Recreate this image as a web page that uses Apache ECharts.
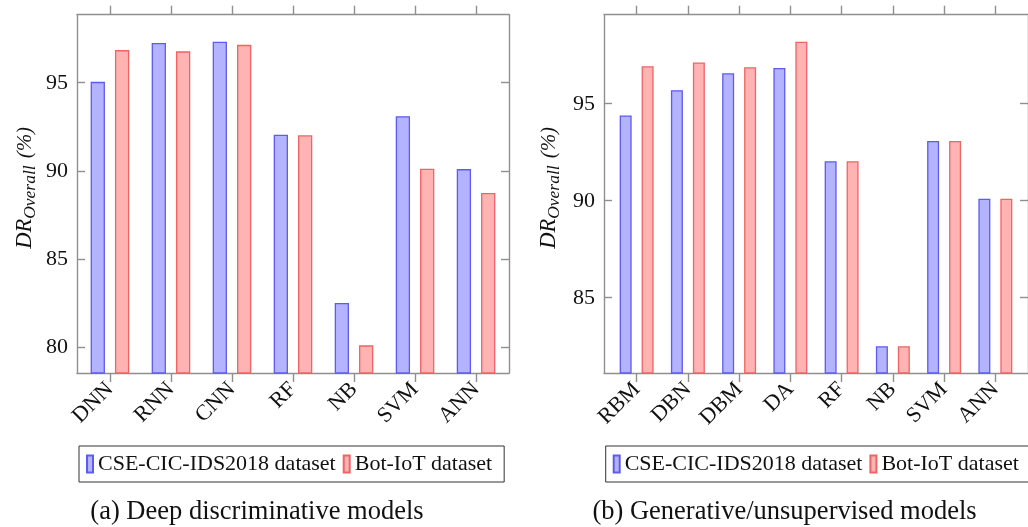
<!DOCTYPE html>
<html><head><meta charset="utf-8">
<script src="https://cdn.jsdelivr.net/npm/echarts@6/dist/echarts.min.js"></script>
<style>html,body{margin:0;padding:0;background:#fff}#c{width:1028px;height:527px}</style>
</head><body><div id="c"></div>
<script>
const catsA = ['DNN','RNN','CNN','RF','NB','SVM','ANN'];
const cseA = [95.05, 97.25, 97.33, 92.05, 82.5, 93.1, 90.1];
const botA = [96.85, 96.78, 97.15, 92.02, 80.1, 90.12, 88.75];
const catsB = ['RBM','DBN','DBM','DA','RF','NB','SVM','ANN'];
const cseB = [94.4, 95.7, 96.57, 96.84, 92.04, 82.5, 93.08, 90.1];
const botB = [96.93, 97.13, 96.88, 98.2, 92.04, 82.5, 93.08, 90.1];
const yTicksA = [80, 85, 90, 95];
const yTicksB = [85, 90, 95];
const seriesNames = ['CSE-CIC-IDS2018 dataset', 'Bot-IoT dataset'];
const captions = ['(a) Deep discriminative models', '(b) Generative/unsupervised models'];

const FONT = '"Liberation Serif", "DejaVu Serif", serif';
const FRAME = '#8f8f8f';
const BLUE_FILL = '#b3b3ff', BLUE_LINE = '#5c5cf0';
const RED_FILL = '#ffb3b3', RED_LINE = '#f06464';

function xAx(gi, cats, min, max, pos) {
  const idx = cats.map((_, i) => i);
  return {
    type: 'value', gridIndex: gi, position: pos, min: min, max: max,
    axisLine: {show: true, onZero: false, lineStyle: {color: FRAME, width: 1.4}},
    axisTick: {show: true, inside: false, length: 9, customValues: idx, lineStyle: {color: FRAME, width: 1.4}},
    axisLabel: pos === 'bottom' ? {
      show: true, customValues: idx, formatter: v => cats[Math.round(v)],
      rotate: 45, margin: 13, fontSize: 22, fontFamily: FONT, color: '#111'
    } : {show: false},
    splitLine: {show: false}
  };
}
function yAx(gi, ticks, min, max, pos, gap) {
  const o = {
    type: 'value', gridIndex: gi, position: pos, min: min, max: max,
    axisLine: {show: true, onZero: false, lineStyle: {color: FRAME, width: 1.4}},
    axisTick: {show: true, inside: true, length: 8, customValues: ticks, lineStyle: {color: FRAME, width: 1.4}},
    axisLabel: pos === 'left' ? {show: true, customValues: ticks, margin: 9, fontSize: 22, fontFamily: FONT, color: '#111'} : {show: false},
    splitLine: {show: false}
  };
  if (pos === 'left') {
    o.name = '{i|DR}{s|Overall}{g| }{p|(%)}';
    o.nameLocation = 'middle';
    o.nameRotate = 90;
    o.nameGap = gap;
    o.nameTextStyle = {
      fontSize: 22, fontFamily: FONT,
      padding: [0, 0, 0, 12],
      rich: {
        i: {fontSize: 22.5, fontStyle: 'italic', fontFamily: FONT, color: '#111', lineHeight: 28, verticalAlign: 'middle'},
        s: {fontSize: 17.5, fontStyle: 'italic', fontFamily: FONT, color: '#111', lineHeight: 17, verticalAlign: 'bottom'},
        g: {fontSize: 28, fontFamily: FONT, lineHeight: 28, verticalAlign: 'middle'},
        p: {fontSize: 21, fontStyle: 'italic', fontFamily: FONT, color: '#111', lineHeight: 28, verticalAlign: 'middle'}
      }
    };
  }
  return o;
}
function bars(name, vals, xi, yi, w, gap, fill, line) {
  return {
    type: 'bar', name: name, xAxisIndex: xi, yAxisIndex: yi,
    data: vals.map((v, i) => [i, v]), barWidth: w, barGap: gap, clip: true,
    itemStyle: {color: fill, borderColor: line, borderWidth: 1.3},
    emphasis: {disabled: true}
  };
}
function leg(left) {
  return {
    data: seriesNames, left: left, top: 446, width: 460, orient: 'horizontal', icon: 'rect',
    itemWidth: 6, itemHeight: 17, itemGap: 7, padding: [7, 12, 7, 7],
    borderColor: '#333', borderWidth: 1, selectedMode: false,
    textStyle: {fontSize: 22, fontFamily: FONT, color: '#111'}
  };
}

const chart = echarts.init(document.getElementById('c'));
chart.setOption({
  animation: false,
  backgroundColor: '#fff',
  grid: [
    {left: 77, top: 14.7, width: 432, height: 358.3},
    {left: 604, top: 14.7, width: 432.3, height: 358.3}
  ],
  xAxis: [
    xAx(0, catsA, -0.54, 6.54, 'bottom'),
    xAx(0, catsA, -0.54, 6.54, 'top'),
    xAx(1, catsB, -0.637, 7.637, 'bottom'),
    xAx(1, catsB, -0.637, 7.637, 'top')
  ],
  yAxis: [
    yAx(0, yTicksA, 78.53, 98.86, 'left', 38),
    yAx(0, yTicksA, 78.53, 98.86, 'right'),
    yAx(1, yTicksB, 81.12, 99.59, 'left', 41),
    yAx(1, yTicksB, 81.12, 99.59, 'right')
  ],
  legend: [leg(79), leg(605.7)],
  series: [
    bars(seriesNames[0], cseA, 0, 0, 14.3, '70%', BLUE_FILL, BLUE_LINE),
    bars(seriesNames[1], botA, 0, 0, 14.3, '70%', RED_FILL, RED_LINE),
    bars(seriesNames[0], cseB, 2, 2, 12, '83%', BLUE_FILL, BLUE_LINE),
    bars(seriesNames[1], botB, 2, 2, 12, '83%', RED_FILL, RED_LINE)
  ],
  graphic: [
    {type: 'text', x: 257, y: 512, style: {text: captions[0], textAlign: 'center', textVerticalAlign: 'middle', fontSize: 26.5, fontFamily: FONT, fill: '#111'}},
    {type: 'text', x: 784.5, y: 512, style: {text: captions[1], textAlign: 'center', textVerticalAlign: 'middle', fontSize: 26.5, fontFamily: FONT, fill: '#111'}}
  ]
});
</script></body></html>
